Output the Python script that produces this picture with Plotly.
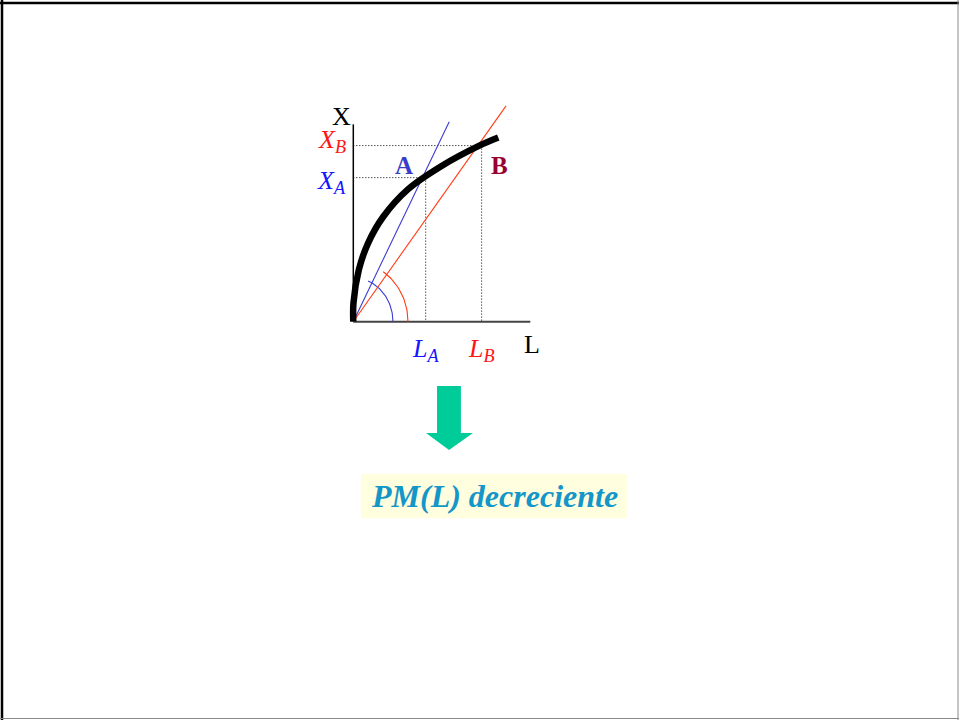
import numpy as np
import plotly.graph_objects as go

# ---- data (chart units: L horizontal, X vertical) ----
curve_L = [0.0, 0.01, 0.31, 0.83, 1.69, 3.10, 4.99, 7.15, 8.19]
curve_X = [0.0, 1.06, 2.92, 4.43, 5.93, 7.49, 8.80, 9.96, 10.41]

point_names = ["A", "B"]
point_L = [4.09, 7.25]
point_X = [8.14, 9.95]

ray_end_L = [5.42, 8.63]   # rays from origin (blue through A, red through B)
ray_end_X = [11.30, 12.19]

arc_rx = [2.24, 3.09]      # angle arcs (horizontal / vertical radius, end angle in degrees)
arc_ry = [2.48, 3.37]
arc_end_deg = [68, 57]

axis_L_max = 10.0
axis_X_max = 11.15

# ---- styles ----
BLUE_LINE = "#3c3cd2"
RED_LINE = "#ff3c14"
BLUE_TXT = "#1414ff"
RED_TXT = "#ff1414"
FONT = "Liberation Serif"

fig = go.Figure()

# axes
fig.add_trace(go.Scatter(x=[0, 0], y=[0, axis_X_max], mode="lines",
                         line=dict(color="black", width=1.5), hoverinfo="skip"))
fig.add_trace(go.Scatter(x=[0, axis_L_max], y=[0, 0], mode="lines",
                         line=dict(color="#444444", width=2), hoverinfo="skip"))

# dotted guides
for Lp, Xp in zip(point_L, point_X):
    fig.add_trace(go.Scatter(x=[0, Lp], y=[Xp, Xp], mode="lines",
                             line=dict(color="black", width=1, dash="1px,2px"), hoverinfo="skip"))
    fig.add_trace(go.Scatter(x=[Lp, Lp], y=[Xp, 0], mode="lines",
                             line=dict(color="black", width=1, dash="1px,2px"), hoverinfo="skip"))

# rays and angle arcs
for (eL, eX, rx, ry, te, col) in zip(ray_end_L, ray_end_X, arc_rx, arc_ry, arc_end_deg,
                                     [BLUE_LINE, RED_LINE]):
    fig.add_trace(go.Scatter(x=[0, eL], y=[0, eX], mode="lines",
                             line=dict(color=col, width=1.1), hoverinfo="skip"))
    t = np.radians(np.linspace(0, te, 40))
    fig.add_trace(go.Scatter(x=rx * np.cos(t), y=ry * np.sin(t), mode="lines",
                             line=dict(color=col, width=1.1), hoverinfo="skip"))

# production curve
fig.add_trace(go.Scatter(x=curve_L, y=curve_X, mode="lines",
                         line=dict(color="black", width=6.5, shape="spline", smoothing=1.0),
                         hoverinfo="skip"))

ann = []
def lab(x, y, text, color, size, xanchor="center"):
    ann.append(dict(x=x, y=y, xref="x", yref="y", text=text, showarrow=False,
                    xanchor=xanchor, yanchor="middle",
                    font=dict(family=FONT, size=size, color=color)))

lab(-0.64, 11.6, "X", "black", 26)
lab(10.12, -1.3, "L", "black", 26)
lab(-0.3, 10.21, "<i>X</i><sub><i>B</i></sub>", RED_TXT, 26, xanchor="right")
lab(-0.3, 7.92, "<i>X</i><sub><i>A</i></sub>", BLUE_TXT, 26, xanchor="right")
lab(point_L[0], -1.57, "<i>L</i><sub><i>A</i></sub>", BLUE_TXT, 26)
lab(point_L[1], -1.57, "<i>L</i><sub><i>B</i></sub>", RED_TXT, 26)
lab(2.86, 8.80, "<b>A</b>", "#3c3cc8", 25)
lab(8.26, 8.80, "<b>B</b>", "#990033", 25)

# conclusion text
ann.append(dict(x=7.95, y=-9.87, xref="x", yref="y",
                text="<b><i>PM(L) decreciente</i></b>", showarrow=False,
                xanchor="center", yanchor="middle",
                font=dict(family=FONT, size=32, color="#1496c8")))

shapes = [
    # text background
    dict(type="rect", xref="x", yref="y", x0=0.43, x1=15.46, y0=-8.60, y1=-11.10,
         fillcolor="#ffffe0", line=dict(width=0), layer="below"),
    # down arrow
    dict(type="path", xref="x", yref="y",
         path="M 4.73 -3.63 L 6.08 -3.63 L 6.08 -6.29 L 6.76 -6.29 L 5.41 -7.25 "
              "L 4.11 -6.29 L 4.73 -6.29 Z",
         fillcolor="#00cc99", line=dict(width=0)),
    # frame
    dict(type="line", xref="paper", yref="paper", x0=0, x1=1, y0=1 - 3 / 720, y1=1 - 3 / 720,
         line=dict(color="black", width=2.5)),
    dict(type="line", xref="paper", yref="paper", x0=2 / 959, x1=2 / 959, y0=0, y1=1,
         line=dict(color="black", width=2.5)),
    dict(type="line", xref="paper", yref="paper", x0=958 / 959, x1=958 / 959, y0=0, y1=1,
         line=dict(color="#888888", width=1)),
    dict(type="line", xref="paper", yref="paper", x0=0, x1=1, y0=1.5 / 720, y1=1.5 / 720,
         line=dict(color="#888888", width=1)),
]

fig.update_layout(
    width=959, height=720, autosize=False,
    margin=dict(l=0, r=0, t=0, b=0),
    paper_bgcolor="white", plot_bgcolor="white",
    showlegend=False,
    xaxis=dict(range=[-19.96, 34.22], visible=False, fixedrange=True),
    yaxis=dict(range=[-22.50, 18.175], visible=False, fixedrange=True),
    annotations=ann, shapes=shapes,
)

fig.write_html("out.html", config={"displayModeBar": False},
               post_script="document.body.style.margin='0px';document.body.style.overflow='hidden';")
